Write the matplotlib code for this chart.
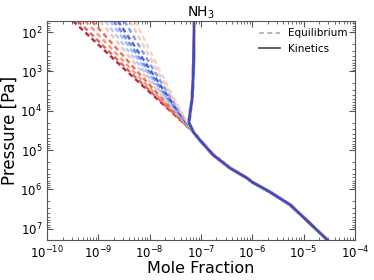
import matplotlib
matplotlib.use('Agg')
import numpy as np
import matplotlib.pyplot as plt

plt.rcParams['axes.unicode_minus'] = False

# pressure levels [Pa]
p_top = [52, 1e3, 1e4]
p_deep = [3.5e4, 5.6e4, 1.35e5, 2.9e5, 5.2e5, 6.6e5, 1.17e6, 2.5e6, 6.7e6, 1.95e7]
p_kin = [50, 1e2, 1e3, 5e3, 1e4, 2e4] + p_deep

# NH3 mole fraction, deep part shared by all models
x_deep = [7.1e-8, 9.5e-8, 1.74e-7, 3.7e-7, 7.9e-7, 1.0e-6, 2.2e-6, 5.5e-6, 1.23e-5, 2.9e-5]
x_kin_top = [7.3e-8, 7.3e-8, 7.1e-8, 6.7e-8, 6.2e-8, 5.8e-8]

# equilibrium profiles, upper part (at p_top)
eq_top = [
    [3.2e-10, 3.6e-9, 2.5e-8],
    [4.0e-10, 4.0e-9, 2.6e-8],
    [5.5e-10, 4.8e-9, 2.7e-8],
    [7.5e-10, 5.7e-9, 2.9e-8],
    [1.08e-9, 6.9e-9, 3.05e-8],
    [1.35e-9, 7.8e-9, 3.2e-8],
    [1.7e-9, 8.8e-9, 3.3e-8],
    [2.0e-9, 9.7e-9, 3.4e-8],
    [2.4e-9, 1.07e-8, 3.5e-8],
    [3.2e-9, 1.24e-8, 3.7e-8],
    [4.1e-9, 1.43e-8, 3.85e-8],
    [5.2e-9, 1.6e-8, 4.0e-8],
]
# colormap position of each model
model_c = [1.0, 0.9, 0.78, 0.88, 0.65, 0.33, 0.28, 0.12, 0.0, 0.16, 0.62, 0.58]

fig = plt.figure(figsize=(3.74, 2.8), dpi=100)
ax = fig.add_axes([0.126, 0.143, 0.823, 0.782])
cmap = plt.get_cmap('coolwarm')

for i in range(len(eq_top)):
    ax.plot(eq_top[i] + x_deep, p_top + p_deep, color=cmap(model_c[i]),
            ls=(0, (2.0, 1.4)), lw=1.8, alpha=0.85)

# kinetics: all models on top of each other, blue drawn last
order = np.argsort(model_c)[::-1]
for i in order:
    lw = 2.2 if model_c[i] > 0.5 else 1.5
    ax.plot(x_kin_top + x_deep, p_kin, color=cmap(model_c[i]), lw=lw)
ax.plot(x_kin_top + x_deep, p_kin, color=cmap(0.0), lw=1.5)

ax.set_xscale('log')
ax.set_yscale('log')
ax.set_xlim(1e-10, 1e-4)
ax.set_ylim(1.95e7, 52)

ax.plot([], [], color='#aaaaaa', ls=(0, (3, 2)), lw=1.2, label='Equilibrium')
ax.plot([], [], color='#444444', lw=1.2, label='Kinetics')
ax.legend(loc='upper right', frameon=False, fontsize=7.5, handlelength=2.0,
          borderaxespad=0.3)

for s in ax.spines.values():
    s.set_color('#555555')
ax.tick_params(which='both', direction='in', top=True, right=True,
               labelsize=8.5, colors='#555555', labelcolor='black')
ax.tick_params(which='major', length=4)
ax.tick_params(which='minor', length=2)

ax.set_title('NH$_3$', fontsize=10, pad=3)
ax.set_xlabel('Mole Fraction', fontsize=11.5, labelpad=0)
ax.set_ylabel('Pressure [Pa]', fontsize=12, labelpad=1)

fig.savefig('out.png', dpi=100)
